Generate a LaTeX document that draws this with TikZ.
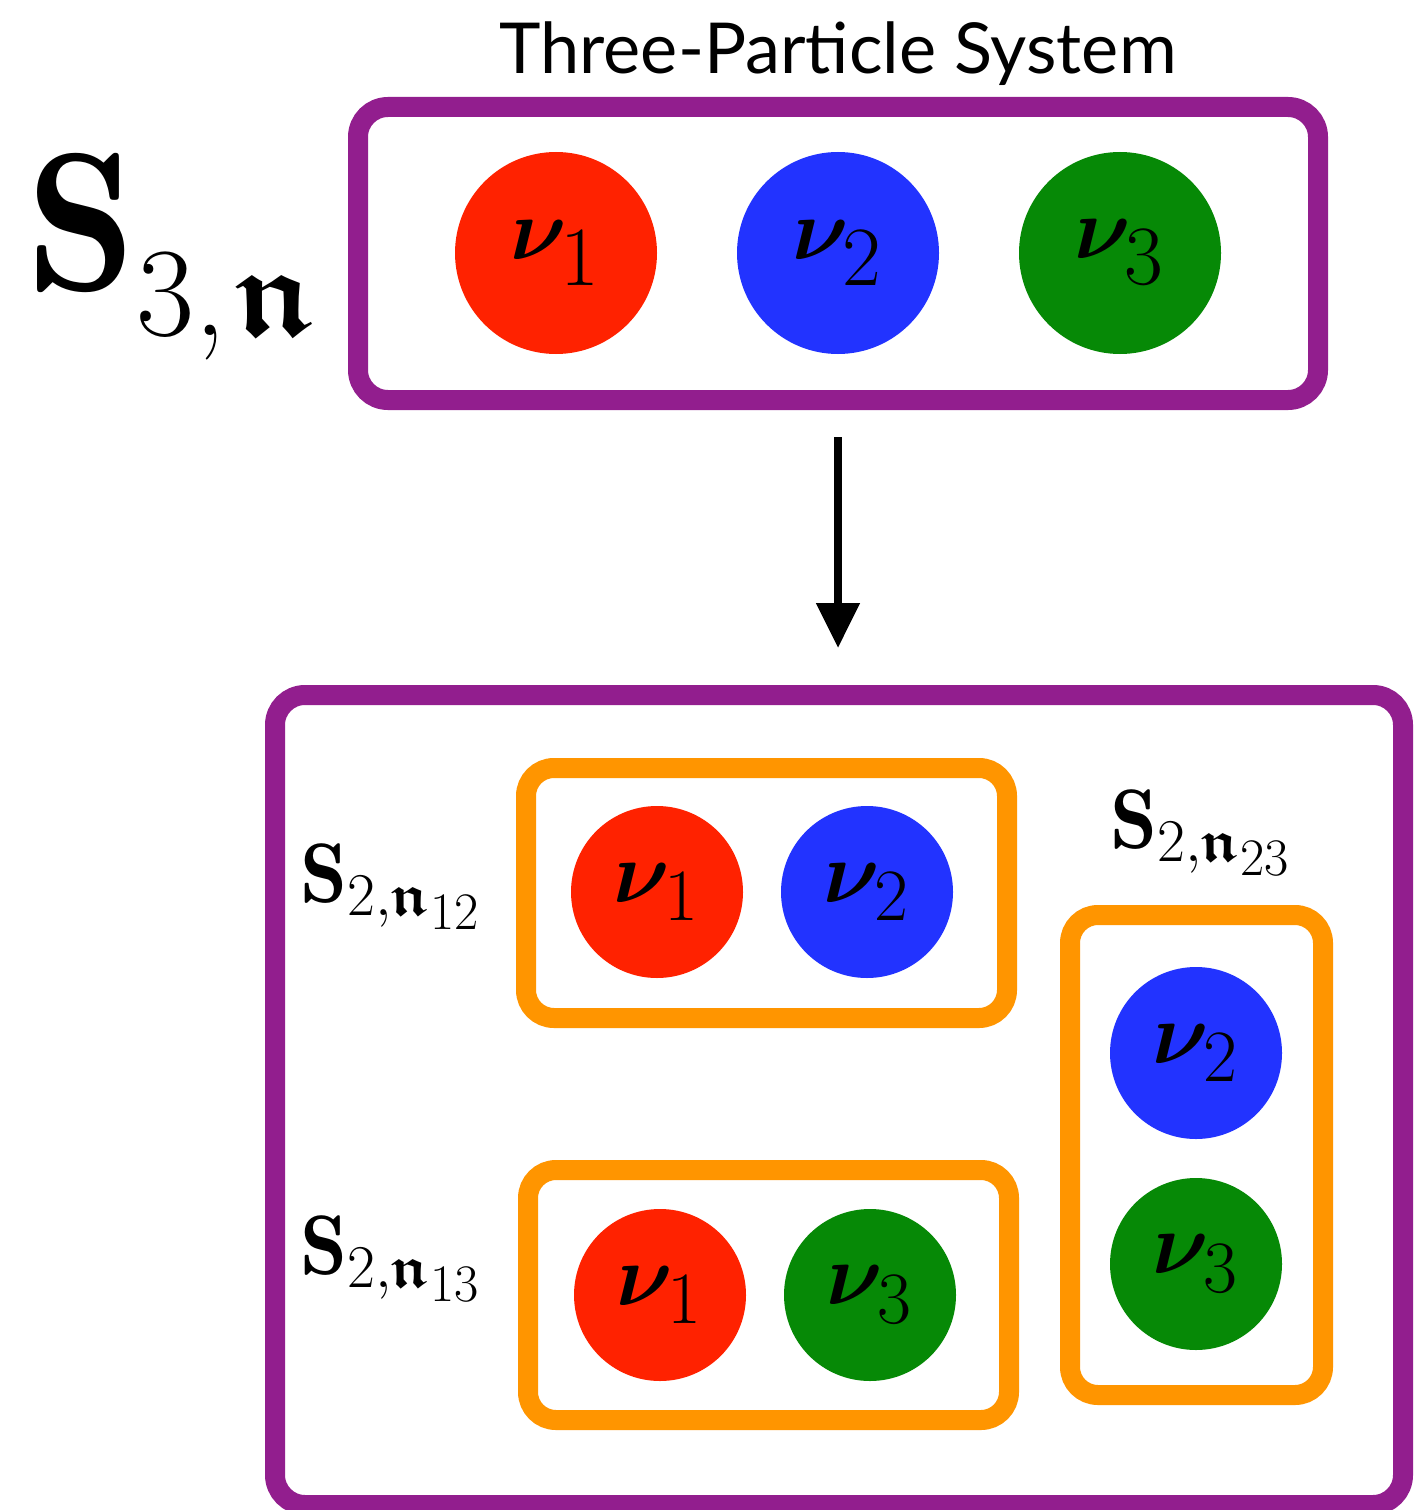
\documentclass[tikz,border=0pt]{standalone}
\usepackage{amsmath,amssymb,bm}
\usepackage{fontspec}
\usepackage{tikz}
\usetikzlibrary{positioning,arrows.meta}
\newfontfamily\titlefont{Lato}
\definecolor{pred}{HTML}{FF2200}
\definecolor{pblue}{HTML}{2233FF}
\definecolor{pgreen}{HTML}{068906}
\definecolor{sysviolet}{HTML}{921E8E}
\definecolor{pairorange}{HTML}{FF9500}
\tikzset{
  sysbox/.style={draw=sysviolet, line width=0.2cm, rounded corners=0.3cm, fill=white, inner sep=0pt},
  pairbox/.style={draw=pairorange, line width=0.2cm, rounded corners=0.28cm, inner sep=0pt},
  bigpart/.style={circle, minimum size=2.02cm, inner sep=0pt,
    font=\fontsize{31}{36}\selectfont\def\subsz{\fontsize{24}{26}\selectfont}},
  smallpart/.style={circle, minimum size=1.72cm, inner sep=0pt,
    font=\fontsize{27}{30}\selectfont\def\subsz{\fontsize{21}{23}\selectfont}},
  slbl/.style={anchor=base west, inner sep=0pt, font=\fontsize{24}{28}\selectfont},
  decay/.style={-{Triangle[width=0.42cm,length=0.45cm]}, line width=0.08cm},
}
\newcommand{\nulbl}[1]{$\bm{\nu}_{\text{\subsz #1}}$}
\newcommand{\pairlbl}[1]{$\mathbf{S}_{2,\bm{\mathfrak{n}}_{\text{\fontsize{15}{17}\selectfont #1}}}$}
\begin{document}
\begin{tikzpicture}
\useasboundingbox (0,0) rectangle (14.25,-15.10);
% three-particle system
\node[font=\titlefont\fontsize{20}{24}\selectfont] (title) at (8.38,-0.54) {Three-Particle System};
\node[sysbox, minimum width=9.6cm, minimum height=2.93cm] (full) at (8.38,-2.535) {};
\node[bigpart, fill=pred]   (a1) at (5.56,-2.53)  {\nulbl{1}};
\node[bigpart, fill=pblue]  (a2) at (8.38,-2.53)  {\nulbl{2}};
\node[bigpart, fill=pgreen] (a3) at (11.20,-2.53) {\nulbl{3}};
\node[anchor=base west, inner sep=0pt, font=\fontsize{56}{60}\selectfont] (s3) at (0.26,-2.90)
  {$\mathbf{S}$\raisebox{-0.45cm}{\fontsize{36}{40}\selectfont 3,\kern0.1cm$\bm{\mathfrak{n}}$}};
% pair subsystems
\node[sysbox, minimum width=11.28cm, minimum height=8.10cm] (split) at (8.39,-11.00) {};
\draw[decay, shorten <=0.27cm, shorten >=0.37cm] (full.south) -- (full.south |- split.north);
\node[pairbox, minimum width=4.81cm, minimum height=2.50cm] (p12) at (7.665,-8.93) {};
\node[pairbox, minimum width=4.81cm, minimum height=2.50cm] (p13) at (7.685,-12.95) {};
\node[pairbox, minimum width=2.53cm, minimum height=4.80cm] (p23) at (11.965,-11.55) {};
\node[smallpart, fill=pred]   (b1) at (6.57,-8.92)   {\nulbl{1}};
\node[smallpart, fill=pblue]  (b2) at (8.67,-8.92)   {\nulbl{2}};
\node[smallpart, fill=pred]   (c1) at (6.60,-12.95)  {\nulbl{1}};
\node[smallpart, fill=pgreen] (c3) at (8.70,-12.95)  {\nulbl{3}};
\node[smallpart, fill=pblue]  (d2) at (11.96,-10.53) {\nulbl{2}};
\node[smallpart, fill=pgreen] (d3) at (11.96,-12.64) {\nulbl{3}};
\node[slbl] (s12) at (3.00,-9.02)  {\pairlbl{12}};
\node[slbl] (s13) at (3.00,-12.74) {\pairlbl{13}};
\node[slbl] (s23) at (11.10,-8.48) {\pairlbl{23}};
\end{tikzpicture}
\end{document}
